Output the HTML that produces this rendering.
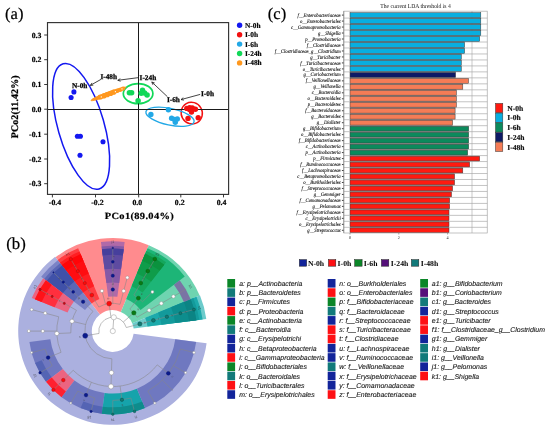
<!DOCTYPE html>
<html lang="en">
<head>
<meta charset="utf-8">
<title>Figure</title>
<style>
html,body{margin:0;padding:0;background:#fff;}
body{width:550px;height:429px;overflow:hidden;font-family:'Liberation Serif',serif;}
svg{display:block;text-rendering:geometricPrecision;}
</style>
</head>
<body>
<svg width="550" height="429" viewBox="0 0 550 429">
<rect x="0" y="0" width="550" height="429" fill="#ffffff"/>
<g id="pcoa">
<text x="5.0" y="19.2" font-family="'Liberation Serif', serif" font-size="16.6" font-weight="normal" font-style="normal" text-anchor="start" fill="#000" stroke="#000" stroke-width="0.2">(a)</text>
<ellipse cx="81.1" cy="126.4" rx="23.1" ry="65.1" transform="rotate(-16 81.1 126.4)" fill="none" stroke="#1418f0" stroke-width="1.5"/>
<ellipse cx="191.75" cy="113.1" rx="10.5" ry="11.0" transform="rotate(-30 191.75 113.1)" fill="none" stroke="#f21010" stroke-width="1.45"/>
<ellipse cx="170.0" cy="116.7" rx="24.6" ry="8.3" transform="rotate(12 170.0 116.7)" fill="none" stroke="#22a8e6" stroke-width="1.35"/>
<ellipse cx="138.1" cy="93.6" rx="14.8" ry="10" fill="none" stroke="#12d858" stroke-width="1.7"/>
<line x1="47.5" y1="109.1" x2="228.6" y2="109.1" stroke="#1a1a1a" stroke-width="1.05" shape-rendering="crispEdges"/>
<line x1="138.8" y1="22.6" x2="138.8" y2="194.4" stroke="#1a1a1a" stroke-width="1.05" shape-rendering="crispEdges"/>
<rect x="47.5" y="22.6" width="181.1" height="171.8" fill="none" stroke="#333" stroke-width="1.15"/>
<line x1="44.2" y1="35.0" x2="47.5" y2="35.0" stroke="#222" stroke-width="0.9"/>
<text x="41.4" y="37.5" font-family="'Liberation Serif', serif" font-size="7.8" font-weight="bold" font-style="normal" text-anchor="end" fill="#000" stroke="#000" stroke-width="0.2">0.3</text>
<line x1="44.2" y1="59.7" x2="47.5" y2="59.7" stroke="#222" stroke-width="0.9"/>
<text x="41.4" y="62.2" font-family="'Liberation Serif', serif" font-size="7.8" font-weight="bold" font-style="normal" text-anchor="end" fill="#000" stroke="#000" stroke-width="0.2">0.2</text>
<line x1="44.2" y1="84.5" x2="47.5" y2="84.5" stroke="#222" stroke-width="0.9"/>
<text x="41.4" y="87.0" font-family="'Liberation Serif', serif" font-size="7.8" font-weight="bold" font-style="normal" text-anchor="end" fill="#000" stroke="#000" stroke-width="0.2">0.1</text>
<line x1="44.2" y1="109.2" x2="47.5" y2="109.2" stroke="#222" stroke-width="0.9"/>
<text x="41.4" y="111.7" font-family="'Liberation Serif', serif" font-size="7.8" font-weight="bold" font-style="normal" text-anchor="end" fill="#000" stroke="#000" stroke-width="0.2">0.0</text>
<line x1="44.2" y1="134.2" x2="47.5" y2="134.2" stroke="#222" stroke-width="0.9"/>
<text x="41.4" y="136.7" font-family="'Liberation Serif', serif" font-size="7.8" font-weight="bold" font-style="normal" text-anchor="end" fill="#000" stroke="#000" stroke-width="0.2">-0.1</text>
<line x1="44.2" y1="159.0" x2="47.5" y2="159.0" stroke="#222" stroke-width="0.9"/>
<text x="41.4" y="161.5" font-family="'Liberation Serif', serif" font-size="7.8" font-weight="bold" font-style="normal" text-anchor="end" fill="#000" stroke="#000" stroke-width="0.2">-0.2</text>
<line x1="44.2" y1="183.7" x2="47.5" y2="183.7" stroke="#222" stroke-width="0.9"/>
<text x="41.4" y="186.2" font-family="'Liberation Serif', serif" font-size="7.8" font-weight="bold" font-style="normal" text-anchor="end" fill="#000" stroke="#000" stroke-width="0.2">-0.3</text>
<line x1="52.4" y1="194.4" x2="52.4" y2="197.4" stroke="#222" stroke-width="0.9"/>
<text x="55.0" y="204.70000000000002" font-family="'Liberation Serif', serif" font-size="7.8" font-weight="bold" font-style="normal" text-anchor="middle" fill="#000" stroke="#000" stroke-width="0.2">-0.4</text>
<line x1="95.5" y1="194.4" x2="95.5" y2="197.4" stroke="#222" stroke-width="0.9"/>
<text x="97.4" y="204.70000000000002" font-family="'Liberation Serif', serif" font-size="7.8" font-weight="bold" font-style="normal" text-anchor="middle" fill="#000" stroke="#000" stroke-width="0.2">-0.2</text>
<line x1="138.7" y1="194.4" x2="138.7" y2="197.4" stroke="#222" stroke-width="0.9"/>
<text x="137.3" y="204.70000000000002" font-family="'Liberation Serif', serif" font-size="7.8" font-weight="bold" font-style="normal" text-anchor="middle" fill="#000" stroke="#000" stroke-width="0.2">0.0</text>
<line x1="180.8" y1="194.4" x2="180.8" y2="197.4" stroke="#222" stroke-width="0.9"/>
<text x="179.7" y="204.70000000000002" font-family="'Liberation Serif', serif" font-size="7.8" font-weight="bold" font-style="normal" text-anchor="middle" fill="#000" stroke="#000" stroke-width="0.2">0.2</text>
<line x1="223.5" y1="194.4" x2="223.5" y2="197.4" stroke="#222" stroke-width="0.9"/>
<text x="221.5" y="204.70000000000002" font-family="'Liberation Serif', serif" font-size="7.8" font-weight="bold" font-style="normal" text-anchor="middle" fill="#000" stroke="#000" stroke-width="0.2">0.4</text>
<text transform="translate(139.4 219.3) scale(1.1 1)" font-family="'Liberation Serif', serif" font-size="9.5" font-weight="bold" text-anchor="middle" letter-spacing="0.3" stroke="#000" stroke-width="0.2">PCo1(89.04%)</text>
<text transform="translate(17.6 106.8) rotate(-90)" font-family="'Liberation Serif', serif" font-size="10" font-weight="bold" text-anchor="middle" letter-spacing="0.08" stroke="#000" stroke-width="0.25">PCo2(11.42%)</text>
<circle cx="73.9" cy="91.9" r="2.55" fill="#1418f0"/>
<circle cx="71.1" cy="97.5" r="2.55" fill="#1418f0"/>
<circle cx="77.4" cy="136.2" r="2.55" fill="#1418f0"/>
<circle cx="80.4" cy="136.2" r="2.55" fill="#1418f0"/>
<circle cx="103.0" cy="141.8" r="2.55" fill="#1418f0"/>
<circle cx="80.0" cy="155.3" r="2.55" fill="#1418f0"/>
<circle cx="129.4" cy="92.8" r="2.75" fill="#12d858"/>
<circle cx="131.6" cy="92.8" r="2.75" fill="#12d858"/>
<circle cx="142.5" cy="90.2" r="2.75" fill="#12d858"/>
<circle cx="141.2" cy="93.3" r="2.75" fill="#12d858"/>
<circle cx="144.6" cy="93.0" r="2.75" fill="#12d858"/>
<circle cx="147.1" cy="95.0" r="2.75" fill="#12d858"/>
<circle cx="138.1" cy="100.8" r="2.75" fill="#12d858"/>
<circle cx="150.9" cy="114.5" r="2.7" fill="#22a8e6"/>
<circle cx="168.4" cy="109.8" r="2.7" fill="#22a8e6"/>
<circle cx="171.6" cy="118.2" r="2.7" fill="#22a8e6"/>
<circle cx="174.5" cy="119.4" r="2.7" fill="#22a8e6"/>
<circle cx="177.3" cy="118.9" r="2.7" fill="#22a8e6"/>
<circle cx="175.3" cy="122.2" r="2.7" fill="#22a8e6"/>
<circle cx="186.8" cy="108.4" r="2.7" fill="#f21010"/>
<circle cx="189.5" cy="109.4" r="2.7" fill="#f21010"/>
<circle cx="192.3" cy="108.0" r="2.7" fill="#f21010"/>
<circle cx="191.5" cy="112.0" r="2.7" fill="#f21010"/>
<circle cx="195.4" cy="109.2" r="2.7" fill="#f21010"/>
<circle cx="188.0" cy="118.4" r="2.7" fill="#f21010"/>
<circle cx="198.2" cy="117.7" r="2.7" fill="#f21010"/>
<circle cx="189.6" cy="107.6" r="2.7" fill="#f21010"/>
<ellipse cx="108.5" cy="93.9" rx="18.7" ry="1.9" transform="rotate(-20.5 108.5 93.9)" fill="#ff981e" stroke="#ff981e" stroke-width="0.8"/>
<circle cx="100.2" cy="97.0" r="2.6" fill="#ff981e"/>
<circle cx="103.8" cy="95.9" r="2.6" fill="#ff981e"/>
<circle cx="107.2" cy="94.7" r="2.6" fill="#ff981e"/>
<circle cx="110.6" cy="93.4" r="2.6" fill="#ff981e"/>
<circle cx="113.6" cy="92.2" r="2.6" fill="#ff981e"/>
<circle cx="117.5" cy="90.8" r="2.1" fill="#ff981e"/>
<circle cx="120.5" cy="89.8" r="2.1" fill="#ff981e"/>
<circle cx="123" cy="88.7" r="2.1" fill="#ff981e"/>
<circle cx="101.3" cy="96.9" r="0.65" fill="#fff"/>
<circle cx="115.4" cy="91.7" r="0.65" fill="#fff"/>
<circle cx="122.0" cy="88.9" r="0.65" fill="#fff"/>
<text x="72.0" y="87.6" font-family="'Liberation Serif', serif" font-size="7.3" font-weight="bold" font-style="normal" text-anchor="start" fill="#000" stroke="#000" stroke-width="0.25">N-0h</text>
<text x="100.4" y="79.0" font-family="'Liberation Serif', serif" font-size="7.3" font-weight="bold" font-style="normal" text-anchor="start" fill="#000" stroke="#000" stroke-width="0.25">I-48h</text>
<text x="139.6" y="79.8" font-family="'Liberation Serif', serif" font-size="7.3" font-weight="bold" font-style="normal" text-anchor="start" fill="#000" stroke="#000" stroke-width="0.25">I-24h</text>
<text x="166.9" y="101.6" font-family="'Liberation Serif', serif" font-size="7.3" font-weight="bold" font-style="normal" text-anchor="start" fill="#000" stroke="#000" stroke-width="0.25">I-6h</text>
<text x="201.0" y="95.7" font-family="'Liberation Serif', serif" font-size="7.3" font-weight="bold" font-style="normal" text-anchor="start" fill="#000" stroke="#000" stroke-width="0.25">I-0h</text>
<line x1="200.2" y1="94.4" x2="181.0" y2="99.6" stroke="#222" stroke-width="0.85"/>
<line x1="181.0" y1="99.6" x2="183.95" y2="100.15" stroke="#222" stroke-width="0.8"/>
<line x1="181.0" y1="99.6" x2="183.27" y2="97.63" stroke="#222" stroke-width="0.8"/>
<line x1="167.4" y1="96.7" x2="151.8" y2="82.0" stroke="#222" stroke-width="0.85"/>
<line x1="151.8" y1="82.0" x2="152.87" y2="84.80" stroke="#222" stroke-width="0.8"/>
<line x1="151.8" y1="82.0" x2="154.66" y2="82.90" stroke="#222" stroke-width="0.8"/>
<line x1="138.6" y1="77.6" x2="117.8" y2="80.3" stroke="#222" stroke-width="0.85"/>
<line x1="117.8" y1="80.3" x2="120.65" y2="81.25" stroke="#222" stroke-width="0.8"/>
<line x1="117.8" y1="80.3" x2="120.31" y2="78.66" stroke="#222" stroke-width="0.8"/>
<line x1="100.9" y1="79.4" x2="90.3" y2="85.4" stroke="#222" stroke-width="0.85"/>
<line x1="90.3" y1="85.4" x2="93.29" y2="85.20" stroke="#222" stroke-width="0.8"/>
<line x1="90.3" y1="85.4" x2="92.01" y2="82.93" stroke="#222" stroke-width="0.8"/>
<circle cx="239.6" cy="25.3" r="2.7" fill="#1418f0"/>
<text x="244.9" y="27.7" font-family="'Liberation Serif', serif" font-size="7.4" font-weight="bold" font-style="normal" text-anchor="start" fill="#000" stroke="#000" stroke-width="0.15">N-0h</text>
<circle cx="239.6" cy="34.7" r="2.7" fill="#f21010"/>
<text x="244.9" y="37.1" font-family="'Liberation Serif', serif" font-size="7.4" font-weight="bold" font-style="normal" text-anchor="start" fill="#000" stroke="#000" stroke-width="0.15">I-0h</text>
<circle cx="239.6" cy="44.1" r="2.7" fill="#22a8e6"/>
<text x="244.9" y="46.5" font-family="'Liberation Serif', serif" font-size="7.4" font-weight="bold" font-style="normal" text-anchor="start" fill="#000" stroke="#000" stroke-width="0.15">I-6h</text>
<circle cx="239.6" cy="53.5" r="2.7" fill="#12d858"/>
<text x="244.9" y="55.9" font-family="'Liberation Serif', serif" font-size="7.4" font-weight="bold" font-style="normal" text-anchor="start" fill="#000" stroke="#000" stroke-width="0.15">I-24h</text>
<circle cx="239.6" cy="62.900000000000006" r="2.7" fill="#ff981e"/>
<text x="244.9" y="65.30000000000001" font-family="'Liberation Serif', serif" font-size="7.4" font-weight="bold" font-style="normal" text-anchor="start" fill="#000" stroke="#000" stroke-width="0.15">I-48h</text>
</g>
<g id="lda">
<text x="267.8" y="18.6" font-family="'Liberation Serif', serif" font-size="16.6" font-weight="normal" font-style="normal" text-anchor="start" fill="#000" stroke="#000" stroke-width="0.2">(c)</text>
<text transform="translate(415.5 8.0) scale(0.9 1)" font-family="'Liberation Serif', serif" font-size="6.25" text-anchor="middle" fill="#111">The current LDA threshold is 4</text>
<rect x="343.8" y="11.15" width="143.39999999999998" height="221.85" fill="#fff" stroke="none"/>
<line x1="472.00" y1="11.15" x2="472.00" y2="233.0" stroke="#a4a4a4" stroke-width="0.6"/>
<line x1="343.8" y1="18.09" x2="487.2" y2="18.09" stroke="#a4a4a4" stroke-width="0.65"/>
<line x1="343.8" y1="24.07" x2="487.2" y2="24.07" stroke="#a4a4a4" stroke-width="0.65"/>
<line x1="343.8" y1="30.04" x2="487.2" y2="30.04" stroke="#a4a4a4" stroke-width="0.65"/>
<line x1="343.8" y1="36.02" x2="487.2" y2="36.02" stroke="#a4a4a4" stroke-width="0.65"/>
<line x1="343.8" y1="42.00" x2="487.2" y2="42.00" stroke="#a4a4a4" stroke-width="0.65"/>
<line x1="343.8" y1="47.98" x2="487.2" y2="47.98" stroke="#a4a4a4" stroke-width="0.65"/>
<line x1="343.8" y1="53.96" x2="487.2" y2="53.96" stroke="#a4a4a4" stroke-width="0.65"/>
<line x1="343.8" y1="59.94" x2="487.2" y2="59.94" stroke="#a4a4a4" stroke-width="0.65"/>
<line x1="343.8" y1="65.91" x2="487.2" y2="65.91" stroke="#a4a4a4" stroke-width="0.65"/>
<line x1="343.8" y1="71.89" x2="487.2" y2="71.89" stroke="#a4a4a4" stroke-width="0.65"/>
<line x1="343.8" y1="77.87" x2="487.2" y2="77.87" stroke="#a4a4a4" stroke-width="0.65"/>
<line x1="343.8" y1="83.85" x2="487.2" y2="83.85" stroke="#a4a4a4" stroke-width="0.65"/>
<line x1="343.8" y1="89.83" x2="487.2" y2="89.83" stroke="#a4a4a4" stroke-width="0.65"/>
<line x1="343.8" y1="95.80" x2="487.2" y2="95.80" stroke="#a4a4a4" stroke-width="0.65"/>
<line x1="343.8" y1="101.78" x2="487.2" y2="101.78" stroke="#a4a4a4" stroke-width="0.65"/>
<line x1="343.8" y1="107.76" x2="487.2" y2="107.76" stroke="#a4a4a4" stroke-width="0.65"/>
<line x1="343.8" y1="113.74" x2="487.2" y2="113.74" stroke="#a4a4a4" stroke-width="0.65"/>
<line x1="343.8" y1="119.72" x2="487.2" y2="119.72" stroke="#a4a4a4" stroke-width="0.65"/>
<line x1="343.8" y1="125.69" x2="487.2" y2="125.69" stroke="#a4a4a4" stroke-width="0.65"/>
<line x1="343.8" y1="131.67" x2="487.2" y2="131.67" stroke="#a4a4a4" stroke-width="0.65"/>
<line x1="343.8" y1="137.65" x2="487.2" y2="137.65" stroke="#a4a4a4" stroke-width="0.65"/>
<line x1="343.8" y1="143.63" x2="487.2" y2="143.63" stroke="#a4a4a4" stroke-width="0.65"/>
<line x1="343.8" y1="149.60" x2="487.2" y2="149.60" stroke="#a4a4a4" stroke-width="0.65"/>
<line x1="343.8" y1="155.58" x2="487.2" y2="155.58" stroke="#a4a4a4" stroke-width="0.65"/>
<line x1="343.8" y1="161.56" x2="487.2" y2="161.56" stroke="#a4a4a4" stroke-width="0.65"/>
<line x1="343.8" y1="167.54" x2="487.2" y2="167.54" stroke="#a4a4a4" stroke-width="0.65"/>
<line x1="343.8" y1="173.52" x2="487.2" y2="173.52" stroke="#a4a4a4" stroke-width="0.65"/>
<line x1="343.8" y1="179.49" x2="487.2" y2="179.49" stroke="#a4a4a4" stroke-width="0.65"/>
<line x1="343.8" y1="185.47" x2="487.2" y2="185.47" stroke="#a4a4a4" stroke-width="0.65"/>
<line x1="343.8" y1="191.45" x2="487.2" y2="191.45" stroke="#a4a4a4" stroke-width="0.65"/>
<line x1="343.8" y1="197.43" x2="487.2" y2="197.43" stroke="#a4a4a4" stroke-width="0.65"/>
<line x1="343.8" y1="203.41" x2="487.2" y2="203.41" stroke="#a4a4a4" stroke-width="0.65"/>
<line x1="343.8" y1="209.38" x2="487.2" y2="209.38" stroke="#a4a4a4" stroke-width="0.65"/>
<line x1="343.8" y1="215.36" x2="487.2" y2="215.36" stroke="#a4a4a4" stroke-width="0.65"/>
<line x1="343.8" y1="221.34" x2="487.2" y2="221.34" stroke="#a4a4a4" stroke-width="0.65"/>
<line x1="343.8" y1="227.32" x2="487.2" y2="227.32" stroke="#a4a4a4" stroke-width="0.65"/>
<line x1="350.0" y1="18.09" x2="480.80" y2="18.09" stroke="#9c9797" stroke-width="1.4"/>
<line x1="350.0" y1="24.07" x2="480.80" y2="24.07" stroke="#9c9797" stroke-width="1.4"/>
<line x1="350.0" y1="30.05" x2="480.80" y2="30.05" stroke="#9c9797" stroke-width="1.4"/>
<line x1="350.0" y1="36.02" x2="479.70" y2="36.02" stroke="#9c9797" stroke-width="1.4"/>
<line x1="350.0" y1="42.00" x2="464.60" y2="42.00" stroke="#9c9797" stroke-width="1.4"/>
<line x1="350.0" y1="47.98" x2="464.60" y2="47.98" stroke="#9c9797" stroke-width="1.4"/>
<line x1="350.0" y1="53.96" x2="461.30" y2="53.96" stroke="#9c9797" stroke-width="1.4"/>
<line x1="350.0" y1="59.94" x2="461.30" y2="59.94" stroke="#9c9797" stroke-width="1.4"/>
<line x1="350.0" y1="65.91" x2="461.30" y2="65.91" stroke="#9c9797" stroke-width="1.4"/>
<line x1="350.0" y1="71.89" x2="455.60" y2="71.89" stroke="#9c9797" stroke-width="1.4"/>
<line x1="350.0" y1="77.87" x2="455.60" y2="77.87" stroke="#9c9797" stroke-width="1.4"/>
<line x1="350.0" y1="83.85" x2="462.80" y2="83.85" stroke="#9c9797" stroke-width="1.4"/>
<line x1="350.0" y1="89.82" x2="456.40" y2="89.82" stroke="#9c9797" stroke-width="1.4"/>
<line x1="350.0" y1="95.80" x2="456.40" y2="95.80" stroke="#9c9797" stroke-width="1.4"/>
<line x1="350.0" y1="101.78" x2="456.40" y2="101.78" stroke="#9c9797" stroke-width="1.4"/>
<line x1="350.0" y1="107.76" x2="455.10" y2="107.76" stroke="#9c9797" stroke-width="1.4"/>
<line x1="350.0" y1="113.74" x2="455.10" y2="113.74" stroke="#9c9797" stroke-width="1.4"/>
<line x1="350.0" y1="119.71" x2="452.60" y2="119.71" stroke="#9c9797" stroke-width="1.4"/>
<line x1="350.0" y1="125.69" x2="452.60" y2="125.69" stroke="#9c9797" stroke-width="1.4"/>
<line x1="350.0" y1="131.67" x2="468.70" y2="131.67" stroke="#9c9797" stroke-width="1.4"/>
<line x1="350.0" y1="137.65" x2="468.70" y2="137.65" stroke="#9c9797" stroke-width="1.4"/>
<line x1="350.0" y1="143.63" x2="468.70" y2="143.63" stroke="#9c9797" stroke-width="1.4"/>
<line x1="350.0" y1="149.60" x2="467.70" y2="149.60" stroke="#9c9797" stroke-width="1.4"/>
<line x1="350.0" y1="155.58" x2="467.70" y2="155.58" stroke="#9c9797" stroke-width="1.4"/>
<line x1="350.0" y1="161.56" x2="469.70" y2="161.56" stroke="#9c9797" stroke-width="1.4"/>
<line x1="350.0" y1="167.54" x2="462.80" y2="167.54" stroke="#9c9797" stroke-width="1.4"/>
<line x1="350.0" y1="173.52" x2="454.60" y2="173.52" stroke="#9c9797" stroke-width="1.4"/>
<line x1="350.0" y1="179.49" x2="454.60" y2="179.49" stroke="#9c9797" stroke-width="1.4"/>
<line x1="350.0" y1="185.47" x2="452.60" y2="185.47" stroke="#9c9797" stroke-width="1.4"/>
<line x1="350.0" y1="191.45" x2="451.50" y2="191.45" stroke="#9c9797" stroke-width="1.4"/>
<line x1="350.0" y1="197.43" x2="449.70" y2="197.43" stroke="#9c9797" stroke-width="1.4"/>
<line x1="350.0" y1="203.41" x2="449.70" y2="203.41" stroke="#9c9797" stroke-width="1.4"/>
<line x1="350.0" y1="209.38" x2="449.00" y2="209.38" stroke="#9c9797" stroke-width="1.4"/>
<line x1="350.0" y1="215.36" x2="449.00" y2="215.36" stroke="#9c9797" stroke-width="1.4"/>
<line x1="350.0" y1="221.34" x2="449.00" y2="221.34" stroke="#9c9797" stroke-width="1.4"/>
<line x1="350.0" y1="227.32" x2="449.00" y2="227.32" stroke="#9c9797" stroke-width="1.4"/>
<rect x="350.0" y="12.72" width="130.80" height="4.76" fill="#08aee0" stroke="#3c3c3c" stroke-width="0.5"/>
<line x1="341.90000000000003" y1="15.10" x2="344.0" y2="15.10" stroke="#111" stroke-width="0.8"/>
<text transform="translate(340.7 16.70) scale(0.9 1)" font-family="'Liberation Serif', serif" font-size="5.25" font-style="italic" text-anchor="end" fill="#000" stroke="#000" stroke-width="0.08">f__Enterobacteriaceae</text>
<rect x="350.0" y="18.70" width="130.80" height="4.76" fill="#08aee0" stroke="#3c3c3c" stroke-width="0.5"/>
<line x1="341.90000000000003" y1="21.08" x2="344.0" y2="21.08" stroke="#111" stroke-width="0.8"/>
<text transform="translate(340.7 22.68) scale(0.9 1)" font-family="'Liberation Serif', serif" font-size="5.25" font-style="italic" text-anchor="end" fill="#000" stroke="#000" stroke-width="0.08">o__Enterobacteriales</text>
<rect x="350.0" y="24.68" width="130.80" height="4.76" fill="#08aee0" stroke="#3c3c3c" stroke-width="0.5"/>
<line x1="341.90000000000003" y1="27.06" x2="344.0" y2="27.06" stroke="#111" stroke-width="0.8"/>
<text transform="translate(340.7 28.66) scale(0.9 1)" font-family="'Liberation Serif', serif" font-size="5.25" font-style="italic" text-anchor="end" fill="#000" stroke="#000" stroke-width="0.08">c__Gammaproteobacteria</text>
<rect x="350.0" y="30.65" width="130.80" height="4.76" fill="#08aee0" stroke="#3c3c3c" stroke-width="0.5"/>
<line x1="341.90000000000003" y1="33.03" x2="344.0" y2="33.03" stroke="#111" stroke-width="0.8"/>
<text transform="translate(340.7 34.63) scale(0.9 1)" font-family="'Liberation Serif', serif" font-size="5.25" font-style="italic" text-anchor="end" fill="#000" stroke="#000" stroke-width="0.08">g__Shigella</text>
<rect x="350.0" y="36.63" width="129.70" height="4.76" fill="#08aee0" stroke="#3c3c3c" stroke-width="0.5"/>
<line x1="341.90000000000003" y1="39.01" x2="344.0" y2="39.01" stroke="#111" stroke-width="0.8"/>
<text transform="translate(340.7 40.61) scale(0.9 1)" font-family="'Liberation Serif', serif" font-size="5.25" font-style="italic" text-anchor="end" fill="#000" stroke="#000" stroke-width="0.08">p__Proteobacteria</text>
<rect x="350.0" y="42.61" width="114.60" height="4.76" fill="#08aee0" stroke="#3c3c3c" stroke-width="0.5"/>
<line x1="341.90000000000003" y1="44.99" x2="344.0" y2="44.99" stroke="#111" stroke-width="0.8"/>
<text transform="translate(340.7 46.59) scale(0.9 1)" font-family="'Liberation Serif', serif" font-size="5.25" font-style="italic" text-anchor="end" fill="#000" stroke="#000" stroke-width="0.08">f__Clostridiaceae</text>
<rect x="350.0" y="48.59" width="114.60" height="4.76" fill="#08aee0" stroke="#3c3c3c" stroke-width="0.5"/>
<line x1="341.90000000000003" y1="50.97" x2="344.0" y2="50.97" stroke="#111" stroke-width="0.8"/>
<text transform="translate(340.7 52.57) scale(0.9 1)" font-family="'Liberation Serif', serif" font-size="5.25" font-style="italic" text-anchor="end" fill="#000" stroke="#000" stroke-width="0.08">f__Clostridiaceae_g__Clostridium</text>
<rect x="350.0" y="54.57" width="111.30" height="4.76" fill="#08aee0" stroke="#3c3c3c" stroke-width="0.5"/>
<line x1="341.90000000000003" y1="56.95" x2="344.0" y2="56.95" stroke="#111" stroke-width="0.8"/>
<text transform="translate(340.7 58.55) scale(0.9 1)" font-family="'Liberation Serif', serif" font-size="5.25" font-style="italic" text-anchor="end" fill="#000" stroke="#000" stroke-width="0.08">g__Turicibacter</text>
<rect x="350.0" y="60.54" width="111.30" height="4.76" fill="#08aee0" stroke="#3c3c3c" stroke-width="0.5"/>
<line x1="341.90000000000003" y1="62.92" x2="344.0" y2="62.92" stroke="#111" stroke-width="0.8"/>
<text transform="translate(340.7 64.52) scale(0.9 1)" font-family="'Liberation Serif', serif" font-size="5.25" font-style="italic" text-anchor="end" fill="#000" stroke="#000" stroke-width="0.08">f__Turicibacteraceae</text>
<rect x="350.0" y="66.52" width="111.30" height="4.76" fill="#08aee0" stroke="#3c3c3c" stroke-width="0.5"/>
<line x1="341.90000000000003" y1="68.90" x2="344.0" y2="68.90" stroke="#111" stroke-width="0.8"/>
<text transform="translate(340.7 70.50) scale(0.9 1)" font-family="'Liberation Serif', serif" font-size="5.25" font-style="italic" text-anchor="end" fill="#000" stroke="#000" stroke-width="0.08">o__Turicibacterales</text>
<rect x="350.0" y="72.50" width="105.60" height="4.76" fill="#0d1a66" stroke="#3c3c3c" stroke-width="0.5"/>
<line x1="341.90000000000003" y1="74.88" x2="344.0" y2="74.88" stroke="#111" stroke-width="0.8"/>
<text transform="translate(340.7 76.48) scale(0.9 1)" font-family="'Liberation Serif', serif" font-size="5.25" font-style="italic" text-anchor="end" fill="#000" stroke="#000" stroke-width="0.08">g__Coriobacterium</text>
<rect x="350.0" y="78.48" width="118.50" height="4.76" fill="#f57c56" stroke="#3c3c3c" stroke-width="0.5"/>
<line x1="341.90000000000003" y1="80.86" x2="344.0" y2="80.86" stroke="#111" stroke-width="0.8"/>
<text transform="translate(340.7 82.46) scale(0.9 1)" font-family="'Liberation Serif', serif" font-size="5.25" font-style="italic" text-anchor="end" fill="#000" stroke="#000" stroke-width="0.08">f__Veillonellaceae</text>
<rect x="350.0" y="84.46" width="112.80" height="4.76" fill="#f57c56" stroke="#3c3c3c" stroke-width="0.5"/>
<line x1="341.90000000000003" y1="86.84" x2="344.0" y2="86.84" stroke="#111" stroke-width="0.8"/>
<text transform="translate(340.7 88.44) scale(0.9 1)" font-family="'Liberation Serif', serif" font-size="5.25" font-style="italic" text-anchor="end" fill="#000" stroke="#000" stroke-width="0.08">g__Veillonella</text>
<rect x="350.0" y="90.43" width="106.40" height="4.76" fill="#f57c56" stroke="#3c3c3c" stroke-width="0.5"/>
<line x1="341.90000000000003" y1="92.81" x2="344.0" y2="92.81" stroke="#111" stroke-width="0.8"/>
<text transform="translate(340.7 94.41) scale(0.9 1)" font-family="'Liberation Serif', serif" font-size="5.25" font-style="italic" text-anchor="end" fill="#000" stroke="#000" stroke-width="0.08">c__Bacteroidia</text>
<rect x="350.0" y="96.41" width="106.40" height="4.76" fill="#f57c56" stroke="#3c3c3c" stroke-width="0.5"/>
<line x1="341.90000000000003" y1="98.79" x2="344.0" y2="98.79" stroke="#111" stroke-width="0.8"/>
<text transform="translate(340.7 100.39) scale(0.9 1)" font-family="'Liberation Serif', serif" font-size="5.25" font-style="italic" text-anchor="end" fill="#000" stroke="#000" stroke-width="0.08">o__Bacteroidales</text>
<rect x="350.0" y="102.39" width="106.40" height="4.76" fill="#f57c56" stroke="#3c3c3c" stroke-width="0.5"/>
<line x1="341.90000000000003" y1="104.77" x2="344.0" y2="104.77" stroke="#111" stroke-width="0.8"/>
<text transform="translate(340.7 106.37) scale(0.9 1)" font-family="'Liberation Serif', serif" font-size="5.25" font-style="italic" text-anchor="end" fill="#000" stroke="#000" stroke-width="0.08">p__Bacteroidetes</text>
<rect x="350.0" y="108.37" width="105.10" height="4.76" fill="#f57c56" stroke="#3c3c3c" stroke-width="0.5"/>
<line x1="341.90000000000003" y1="110.75" x2="344.0" y2="110.75" stroke="#111" stroke-width="0.8"/>
<text transform="translate(340.7 112.35) scale(0.9 1)" font-family="'Liberation Serif', serif" font-size="5.25" font-style="italic" text-anchor="end" fill="#000" stroke="#000" stroke-width="0.08">f__Bacteroidaceae</text>
<rect x="350.0" y="114.35" width="105.10" height="4.76" fill="#f57c56" stroke="#3c3c3c" stroke-width="0.5"/>
<line x1="341.90000000000003" y1="116.73" x2="344.0" y2="116.73" stroke="#111" stroke-width="0.8"/>
<text transform="translate(340.7 118.33) scale(0.9 1)" font-family="'Liberation Serif', serif" font-size="5.25" font-style="italic" text-anchor="end" fill="#000" stroke="#000" stroke-width="0.08">g__Bacteroides</text>
<rect x="350.0" y="120.32" width="102.60" height="4.76" fill="#f57c56" stroke="#3c3c3c" stroke-width="0.5"/>
<line x1="341.90000000000003" y1="122.70" x2="344.0" y2="122.70" stroke="#111" stroke-width="0.8"/>
<text transform="translate(340.7 124.30) scale(0.9 1)" font-family="'Liberation Serif', serif" font-size="5.25" font-style="italic" text-anchor="end" fill="#000" stroke="#000" stroke-width="0.08">g__Dialister</text>
<rect x="350.0" y="126.30" width="118.70" height="4.76" fill="#0b8a5c" stroke="#3c3c3c" stroke-width="0.5"/>
<line x1="341.90000000000003" y1="128.68" x2="344.0" y2="128.68" stroke="#111" stroke-width="0.8"/>
<text transform="translate(340.7 130.28) scale(0.9 1)" font-family="'Liberation Serif', serif" font-size="5.25" font-style="italic" text-anchor="end" fill="#000" stroke="#000" stroke-width="0.08">g__Bifidobacterium</text>
<rect x="350.0" y="132.28" width="118.70" height="4.76" fill="#0b8a5c" stroke="#3c3c3c" stroke-width="0.5"/>
<line x1="341.90000000000003" y1="134.66" x2="344.0" y2="134.66" stroke="#111" stroke-width="0.8"/>
<text transform="translate(340.7 136.26) scale(0.9 1)" font-family="'Liberation Serif', serif" font-size="5.25" font-style="italic" text-anchor="end" fill="#000" stroke="#000" stroke-width="0.08">o__Bifidobacteriales</text>
<rect x="350.0" y="138.26" width="118.70" height="4.76" fill="#0b8a5c" stroke="#3c3c3c" stroke-width="0.5"/>
<line x1="341.90000000000003" y1="140.64" x2="344.0" y2="140.64" stroke="#111" stroke-width="0.8"/>
<text transform="translate(340.7 142.24) scale(0.9 1)" font-family="'Liberation Serif', serif" font-size="5.25" font-style="italic" text-anchor="end" fill="#000" stroke="#000" stroke-width="0.08">f__Bifidobacteriaceae</text>
<rect x="350.0" y="144.24" width="118.70" height="4.76" fill="#0b8a5c" stroke="#3c3c3c" stroke-width="0.5"/>
<line x1="341.90000000000003" y1="146.62" x2="344.0" y2="146.62" stroke="#111" stroke-width="0.8"/>
<text transform="translate(340.7 148.22) scale(0.9 1)" font-family="'Liberation Serif', serif" font-size="5.25" font-style="italic" text-anchor="end" fill="#000" stroke="#000" stroke-width="0.08">c__Actinobacteria</text>
<rect x="350.0" y="150.21" width="117.70" height="4.76" fill="#0b8a5c" stroke="#3c3c3c" stroke-width="0.5"/>
<line x1="341.90000000000003" y1="152.59" x2="344.0" y2="152.59" stroke="#111" stroke-width="0.8"/>
<text transform="translate(340.7 154.19) scale(0.9 1)" font-family="'Liberation Serif', serif" font-size="5.25" font-style="italic" text-anchor="end" fill="#000" stroke="#000" stroke-width="0.08">p__Actinobacteria</text>
<rect x="350.0" y="156.19" width="129.70" height="4.76" fill="#ff1a10" stroke="#3c3c3c" stroke-width="0.5"/>
<line x1="341.90000000000003" y1="158.57" x2="344.0" y2="158.57" stroke="#111" stroke-width="0.8"/>
<text transform="translate(340.7 160.17) scale(0.9 1)" font-family="'Liberation Serif', serif" font-size="5.25" font-style="italic" text-anchor="end" fill="#000" stroke="#000" stroke-width="0.08">p__Firmicutes</text>
<rect x="350.0" y="162.17" width="119.70" height="4.76" fill="#ff1a10" stroke="#3c3c3c" stroke-width="0.5"/>
<line x1="341.90000000000003" y1="164.55" x2="344.0" y2="164.55" stroke="#111" stroke-width="0.8"/>
<text transform="translate(340.7 166.15) scale(0.9 1)" font-family="'Liberation Serif', serif" font-size="5.25" font-style="italic" text-anchor="end" fill="#000" stroke="#000" stroke-width="0.08">f__Ruminococcaceae</text>
<rect x="350.0" y="168.15" width="112.80" height="4.76" fill="#ff1a10" stroke="#3c3c3c" stroke-width="0.5"/>
<line x1="341.90000000000003" y1="170.53" x2="344.0" y2="170.53" stroke="#111" stroke-width="0.8"/>
<text transform="translate(340.7 172.13) scale(0.9 1)" font-family="'Liberation Serif', serif" font-size="5.25" font-style="italic" text-anchor="end" fill="#000" stroke="#000" stroke-width="0.08">f__Lachnospiraceae</text>
<rect x="350.0" y="174.13" width="104.60" height="4.76" fill="#ff1a10" stroke="#3c3c3c" stroke-width="0.5"/>
<line x1="341.90000000000003" y1="176.51" x2="344.0" y2="176.51" stroke="#111" stroke-width="0.8"/>
<text transform="translate(340.7 178.11) scale(0.9 1)" font-family="'Liberation Serif', serif" font-size="5.25" font-style="italic" text-anchor="end" fill="#000" stroke="#000" stroke-width="0.08">c__Betaproteobacteria</text>
<rect x="350.0" y="180.10" width="104.60" height="4.76" fill="#ff1a10" stroke="#3c3c3c" stroke-width="0.5"/>
<line x1="341.90000000000003" y1="182.48" x2="344.0" y2="182.48" stroke="#111" stroke-width="0.8"/>
<text transform="translate(340.7 184.08) scale(0.9 1)" font-family="'Liberation Serif', serif" font-size="5.25" font-style="italic" text-anchor="end" fill="#000" stroke="#000" stroke-width="0.08">o__Burkholderiales</text>
<rect x="350.0" y="186.08" width="102.60" height="4.76" fill="#ff1a10" stroke="#3c3c3c" stroke-width="0.5"/>
<line x1="341.90000000000003" y1="188.46" x2="344.0" y2="188.46" stroke="#111" stroke-width="0.8"/>
<text transform="translate(340.7 190.06) scale(0.9 1)" font-family="'Liberation Serif', serif" font-size="5.25" font-style="italic" text-anchor="end" fill="#000" stroke="#000" stroke-width="0.08">f__Streptococcaceae</text>
<rect x="350.0" y="192.06" width="101.50" height="4.76" fill="#ff1a10" stroke="#3c3c3c" stroke-width="0.5"/>
<line x1="341.90000000000003" y1="194.44" x2="344.0" y2="194.44" stroke="#111" stroke-width="0.8"/>
<text transform="translate(340.7 196.04) scale(0.9 1)" font-family="'Liberation Serif', serif" font-size="5.25" font-style="italic" text-anchor="end" fill="#000" stroke="#000" stroke-width="0.08">g__Gemmiger</text>
<rect x="350.0" y="198.04" width="99.70" height="4.76" fill="#ff1a10" stroke="#3c3c3c" stroke-width="0.5"/>
<line x1="341.90000000000003" y1="200.42" x2="344.0" y2="200.42" stroke="#111" stroke-width="0.8"/>
<text transform="translate(340.7 202.02) scale(0.9 1)" font-family="'Liberation Serif', serif" font-size="5.25" font-style="italic" text-anchor="end" fill="#000" stroke="#000" stroke-width="0.08">f__Comamonadaceae</text>
<rect x="350.0" y="204.02" width="99.70" height="4.76" fill="#ff1a10" stroke="#3c3c3c" stroke-width="0.5"/>
<line x1="341.90000000000003" y1="206.40" x2="344.0" y2="206.40" stroke="#111" stroke-width="0.8"/>
<text transform="translate(340.7 208.00) scale(0.9 1)" font-family="'Liberation Serif', serif" font-size="5.25" font-style="italic" text-anchor="end" fill="#000" stroke="#000" stroke-width="0.08">g__Pelomonas</text>
<rect x="350.0" y="209.99" width="99.00" height="4.76" fill="#ff1a10" stroke="#3c3c3c" stroke-width="0.5"/>
<line x1="341.90000000000003" y1="212.37" x2="344.0" y2="212.37" stroke="#111" stroke-width="0.8"/>
<text transform="translate(340.7 213.97) scale(0.9 1)" font-family="'Liberation Serif', serif" font-size="5.25" font-style="italic" text-anchor="end" fill="#000" stroke="#000" stroke-width="0.08">f__Erysipelotrichaceae</text>
<rect x="350.0" y="215.97" width="99.00" height="4.76" fill="#ff1a10" stroke="#3c3c3c" stroke-width="0.5"/>
<line x1="341.90000000000003" y1="218.35" x2="344.0" y2="218.35" stroke="#111" stroke-width="0.8"/>
<text transform="translate(340.7 219.95) scale(0.9 1)" font-family="'Liberation Serif', serif" font-size="5.25" font-style="italic" text-anchor="end" fill="#000" stroke="#000" stroke-width="0.08">c__Erysipelotrichi</text>
<rect x="350.0" y="221.95" width="99.00" height="4.76" fill="#ff1a10" stroke="#3c3c3c" stroke-width="0.5"/>
<line x1="341.90000000000003" y1="224.33" x2="344.0" y2="224.33" stroke="#111" stroke-width="0.8"/>
<text transform="translate(340.7 225.93) scale(0.9 1)" font-family="'Liberation Serif', serif" font-size="5.25" font-style="italic" text-anchor="end" fill="#000" stroke="#000" stroke-width="0.08">o__Erysipelotrichales</text>
<rect x="350.0" y="227.93" width="99.00" height="4.76" fill="#ff1a10" stroke="#3c3c3c" stroke-width="0.5"/>
<line x1="341.90000000000003" y1="230.31" x2="344.0" y2="230.31" stroke="#111" stroke-width="0.8"/>
<text transform="translate(340.7 231.91) scale(0.9 1)" font-family="'Liberation Serif', serif" font-size="5.25" font-style="italic" text-anchor="end" fill="#000" stroke="#000" stroke-width="0.08">g__Streptococcus</text>
<rect x="343.8" y="11.15" width="143.39999999999998" height="221.85" fill="none" stroke="#999" stroke-width="0.6"/>
<line x1="343.8" y1="11.15" x2="343.8" y2="233.0" stroke="#777" stroke-width="0.6"/>
<line x1="350.00" y1="233.0" x2="350.00" y2="234.5" stroke="#555" stroke-width="0.5"/>
<text x="350.00" y="239.0" font-family="'Liberation Serif', serif" font-size="4.2" font-weight="normal" font-style="normal" text-anchor="middle" fill="#222" >0</text>
<line x1="398.80" y1="233.0" x2="398.80" y2="234.5" stroke="#555" stroke-width="0.5"/>
<text x="398.80" y="239.0" font-family="'Liberation Serif', serif" font-size="4.2" font-weight="normal" font-style="normal" text-anchor="middle" fill="#222" >2</text>
<line x1="447.60" y1="233.0" x2="447.60" y2="234.5" stroke="#555" stroke-width="0.5"/>
<text x="447.60" y="239.0" font-family="'Liberation Serif', serif" font-size="4.2" font-weight="normal" font-style="normal" text-anchor="middle" fill="#222" >4</text>
<rect x="495.5" y="103.40" width="7.3" height="9.3" fill="#ff1a10" stroke="#333" stroke-width="0.5"/>
<text x="507.3" y="110.70" font-family="'Liberation Serif', serif" font-size="7.6" font-weight="bold" font-style="normal" text-anchor="start" fill="#111" stroke="#111" stroke-width="0.15">N-0h</text>
<rect x="495.5" y="113.10" width="7.3" height="9.3" fill="#08aee0" stroke="#333" stroke-width="0.5"/>
<text x="507.3" y="120.40" font-family="'Liberation Serif', serif" font-size="7.6" font-weight="bold" font-style="normal" text-anchor="start" fill="#111" stroke="#111" stroke-width="0.15">I-0h</text>
<rect x="495.5" y="122.80" width="7.3" height="9.3" fill="#0b8a5c" stroke="#333" stroke-width="0.5"/>
<text x="507.3" y="130.10" font-family="'Liberation Serif', serif" font-size="7.6" font-weight="bold" font-style="normal" text-anchor="start" fill="#111" stroke="#111" stroke-width="0.15">I-6h</text>
<rect x="495.5" y="132.50" width="7.3" height="9.3" fill="#0d1a66" stroke="#333" stroke-width="0.5"/>
<text x="507.3" y="139.80" font-family="'Liberation Serif', serif" font-size="7.6" font-weight="bold" font-style="normal" text-anchor="start" fill="#111" stroke="#111" stroke-width="0.15">I-24h</text>
<rect x="495.5" y="142.20" width="7.3" height="9.3" fill="#f57c56" stroke="#333" stroke-width="0.5"/>
<text x="507.3" y="149.50" font-family="'Liberation Serif', serif" font-size="7.6" font-weight="bold" font-style="normal" text-anchor="start" fill="#111" stroke="#111" stroke-width="0.15">I-48h</text>
</g>
<g id="legends">
<rect x="299.3" y="259.6" width="7.4" height="6.6" fill="#12249a" stroke="#222" stroke-width="0.5"/>
<text x="307.9" y="265.9" font-family="'Liberation Serif', serif" font-size="7.7" font-weight="bold" font-style="normal" text-anchor="start" fill="#000" >N-0h</text>
<rect x="328.4" y="259.6" width="7.4" height="6.6" fill="#fe1014" stroke="#222" stroke-width="0.5"/>
<text x="337.6" y="265.9" font-family="'Liberation Serif', serif" font-size="7.7" font-weight="bold" font-style="normal" text-anchor="start" fill="#000" >I-0h</text>
<rect x="354.7" y="259.6" width="7.4" height="6.6" fill="#0b8628" stroke="#222" stroke-width="0.5"/>
<text x="363.8" y="265.9" font-family="'Liberation Serif', serif" font-size="7.7" font-weight="bold" font-style="normal" text-anchor="start" fill="#000" >I-6h</text>
<rect x="381.4" y="259.6" width="7.4" height="6.6" fill="#55107a" stroke="#222" stroke-width="0.5"/>
<text x="390.8" y="265.9" font-family="'Liberation Serif', serif" font-size="7.7" font-weight="bold" font-style="normal" text-anchor="start" fill="#000" >I-24h</text>
<rect x="411.4" y="259.6" width="7.4" height="6.6" fill="#127a7a" stroke="#222" stroke-width="0.5"/>
<text x="420.7" y="265.9" font-family="'Liberation Serif', serif" font-size="7.7" font-weight="bold" font-style="normal" text-anchor="start" fill="#000" >I-48h</text>
<rect x="227.3" y="279.00" width="7.8" height="8.6" fill="#0b8628"/>
<text x="239.2" y="285.80" font-family="'Liberation Sans', sans-serif" font-size="6.93" font-weight="normal" font-style="italic" text-anchor="start" fill="#1c1c1c" stroke="#1c1c1c" stroke-width="0.12">a: p__Actinobacteria</text>
<rect x="227.3" y="288.27" width="7.8" height="8.6" fill="#127a7a"/>
<text x="239.2" y="295.07" font-family="'Liberation Sans', sans-serif" font-size="6.93" font-weight="normal" font-style="italic" text-anchor="start" fill="#1c1c1c" stroke="#1c1c1c" stroke-width="0.12">b: p__Bacteroidetes</text>
<rect x="227.3" y="297.54" width="7.8" height="8.6" fill="#12249a"/>
<text x="239.2" y="304.34" font-family="'Liberation Sans', sans-serif" font-size="6.93" font-weight="normal" font-style="italic" text-anchor="start" fill="#1c1c1c" stroke="#1c1c1c" stroke-width="0.12">c: p__Firmicutes</text>
<rect x="227.3" y="306.81" width="7.8" height="8.6" fill="#fe1014"/>
<text x="239.2" y="313.61" font-family="'Liberation Sans', sans-serif" font-size="6.93" font-weight="normal" font-style="italic" text-anchor="start" fill="#1c1c1c" stroke="#1c1c1c" stroke-width="0.12">d: p__Proteobacteria</text>
<rect x="227.3" y="316.08" width="7.8" height="8.6" fill="#0b8628"/>
<text x="239.2" y="322.88" font-family="'Liberation Sans', sans-serif" font-size="6.93" font-weight="normal" font-style="italic" text-anchor="start" fill="#1c1c1c" stroke="#1c1c1c" stroke-width="0.12">e: c__Actinobacteria</text>
<rect x="227.3" y="325.35" width="7.8" height="8.6" fill="#127a7a"/>
<text x="239.2" y="332.15" font-family="'Liberation Sans', sans-serif" font-size="6.93" font-weight="normal" font-style="italic" text-anchor="start" fill="#1c1c1c" stroke="#1c1c1c" stroke-width="0.12">f: c__Bacteroidia</text>
<rect x="227.3" y="334.62" width="7.8" height="8.6" fill="#12249a"/>
<text x="239.2" y="341.42" font-family="'Liberation Sans', sans-serif" font-size="6.93" font-weight="normal" font-style="italic" text-anchor="start" fill="#1c1c1c" stroke="#1c1c1c" stroke-width="0.12">g: c__Erysipelotrichi</text>
<rect x="227.3" y="343.89" width="7.8" height="8.6" fill="#12249a"/>
<text x="239.2" y="350.69" font-family="'Liberation Sans', sans-serif" font-size="6.93" font-weight="normal" font-style="italic" text-anchor="start" fill="#1c1c1c" stroke="#1c1c1c" stroke-width="0.12">h: c__Betaproteobacteria</text>
<rect x="227.3" y="353.16" width="7.8" height="8.6" fill="#fe1014"/>
<text x="239.2" y="359.96" font-family="'Liberation Sans', sans-serif" font-size="6.93" font-weight="normal" font-style="italic" text-anchor="start" fill="#1c1c1c" stroke="#1c1c1c" stroke-width="0.12">i: c__Gammaproteobacteria</text>
<rect x="227.3" y="362.43" width="7.8" height="8.6" fill="#0b8628"/>
<text x="239.2" y="369.23" font-family="'Liberation Sans', sans-serif" font-size="6.93" font-weight="normal" font-style="italic" text-anchor="start" fill="#1c1c1c" stroke="#1c1c1c" stroke-width="0.12">j: o__Bifidobacteriales</text>
<rect x="227.3" y="371.70" width="7.8" height="8.6" fill="#127a7a"/>
<text x="239.2" y="378.50" font-family="'Liberation Sans', sans-serif" font-size="6.93" font-weight="normal" font-style="italic" text-anchor="start" fill="#1c1c1c" stroke="#1c1c1c" stroke-width="0.12">k: o__Bacteroidales</text>
<rect x="227.3" y="380.97" width="7.8" height="8.6" fill="#fe1014"/>
<text x="239.2" y="387.77" font-family="'Liberation Sans', sans-serif" font-size="6.93" font-weight="normal" font-style="italic" text-anchor="start" fill="#1c1c1c" stroke="#1c1c1c" stroke-width="0.12">l: o__Turicibacterales</text>
<rect x="227.3" y="390.24" width="7.8" height="8.6" fill="#12249a"/>
<text x="239.2" y="397.04" font-family="'Liberation Sans', sans-serif" font-size="6.93" font-weight="normal" font-style="italic" text-anchor="start" fill="#1c1c1c" stroke="#1c1c1c" stroke-width="0.12">m: o__Erysipelotrichales</text>
<rect x="327.7" y="279.00" width="7.8" height="8.6" fill="#12249a"/>
<text x="339.3" y="285.80" font-family="'Liberation Sans', sans-serif" font-size="6.93" font-weight="normal" font-style="italic" text-anchor="start" fill="#1c1c1c" stroke="#1c1c1c" stroke-width="0.12">n: o__Burkholderiales</text>
<rect x="327.7" y="288.27" width="7.8" height="8.6" fill="#fe1014"/>
<text x="339.3" y="295.07" font-family="'Liberation Sans', sans-serif" font-size="6.93" font-weight="normal" font-style="italic" text-anchor="start" fill="#1c1c1c" stroke="#1c1c1c" stroke-width="0.12">o: o__Enterobacteriales</text>
<rect x="327.7" y="297.54" width="7.8" height="8.6" fill="#0b8628"/>
<text x="339.3" y="304.34" font-family="'Liberation Sans', sans-serif" font-size="6.93" font-weight="normal" font-style="italic" text-anchor="start" fill="#1c1c1c" stroke="#1c1c1c" stroke-width="0.12">p: f__Bifidobacteriaceae</text>
<rect x="327.7" y="306.81" width="7.8" height="8.6" fill="#127a7a"/>
<text x="339.3" y="313.61" font-family="'Liberation Sans', sans-serif" font-size="6.93" font-weight="normal" font-style="italic" text-anchor="start" fill="#1c1c1c" stroke="#1c1c1c" stroke-width="0.12">q: f__Bacteroidaceae</text>
<rect x="327.7" y="316.08" width="7.8" height="8.6" fill="#12249a"/>
<text x="339.3" y="322.88" font-family="'Liberation Sans', sans-serif" font-size="6.93" font-weight="normal" font-style="italic" text-anchor="start" fill="#1c1c1c" stroke="#1c1c1c" stroke-width="0.12">r: f__Streptococcaceae</text>
<rect x="327.7" y="325.35" width="7.8" height="8.6" fill="#fe1014"/>
<text x="339.3" y="332.15" font-family="'Liberation Sans', sans-serif" font-size="6.93" font-weight="normal" font-style="italic" text-anchor="start" fill="#1c1c1c" stroke="#1c1c1c" stroke-width="0.12">s: f__Turicibacteraceae</text>
<rect x="327.7" y="334.62" width="7.8" height="8.6" fill="#fe1014"/>
<text x="339.3" y="341.42" font-family="'Liberation Sans', sans-serif" font-size="6.93" font-weight="normal" font-style="italic" text-anchor="start" fill="#1c1c1c" stroke="#1c1c1c" stroke-width="0.12">t: f__Clostridiaceae</text>
<rect x="327.7" y="343.89" width="7.8" height="8.6" fill="#12249a"/>
<text x="339.3" y="350.69" font-family="'Liberation Sans', sans-serif" font-size="6.93" font-weight="normal" font-style="italic" text-anchor="start" fill="#1c1c1c" stroke="#1c1c1c" stroke-width="0.12">u: f__Lachnospiraceae</text>
<rect x="327.7" y="353.16" width="7.8" height="8.6" fill="#12249a"/>
<text x="339.3" y="359.96" font-family="'Liberation Sans', sans-serif" font-size="6.93" font-weight="normal" font-style="italic" text-anchor="start" fill="#1c1c1c" stroke="#1c1c1c" stroke-width="0.12">v: f__Ruminococcaceae</text>
<rect x="327.7" y="362.43" width="7.8" height="8.6" fill="#127a7a"/>
<text x="339.3" y="369.23" font-family="'Liberation Sans', sans-serif" font-size="6.93" font-weight="normal" font-style="italic" text-anchor="start" fill="#1c1c1c" stroke="#1c1c1c" stroke-width="0.12">w: f__Veillonellaceae</text>
<rect x="327.7" y="371.70" width="7.8" height="8.6" fill="#12249a"/>
<text x="339.3" y="378.50" font-family="'Liberation Sans', sans-serif" font-size="6.93" font-weight="normal" font-style="italic" text-anchor="start" fill="#1c1c1c" stroke="#1c1c1c" stroke-width="0.12">x: f__Erysipelotrichaceae</text>
<rect x="327.7" y="380.97" width="7.8" height="8.6" fill="#12249a"/>
<text x="339.3" y="387.77" font-family="'Liberation Sans', sans-serif" font-size="6.93" font-weight="normal" font-style="italic" text-anchor="start" fill="#1c1c1c" stroke="#1c1c1c" stroke-width="0.12">y: f__Comamonadaceae</text>
<rect x="327.7" y="390.24" width="7.8" height="8.6" fill="#fe1014"/>
<text x="339.3" y="397.04" font-family="'Liberation Sans', sans-serif" font-size="6.93" font-weight="normal" font-style="italic" text-anchor="start" fill="#1c1c1c" stroke="#1c1c1c" stroke-width="0.12">z: f__Enterobacteriaceae</text>
<rect x="420.2" y="279.00" width="7.8" height="8.6" fill="#0b8628"/>
<text x="431.8" y="285.80" font-family="'Liberation Sans', sans-serif" font-size="6.93" font-weight="normal" font-style="italic" text-anchor="start" fill="#1c1c1c" stroke="#1c1c1c" stroke-width="0.12">a1: g__Bifidobacterium</text>
<rect x="420.2" y="288.27" width="7.8" height="8.6" fill="#55107a"/>
<text x="431.8" y="295.07" font-family="'Liberation Sans', sans-serif" font-size="6.93" font-weight="normal" font-style="italic" text-anchor="start" fill="#1c1c1c" stroke="#1c1c1c" stroke-width="0.12">b1: g__Coriobacterium</text>
<rect x="420.2" y="297.54" width="7.8" height="8.6" fill="#127a7a"/>
<text x="431.8" y="304.34" font-family="'Liberation Sans', sans-serif" font-size="6.93" font-weight="normal" font-style="italic" text-anchor="start" fill="#1c1c1c" stroke="#1c1c1c" stroke-width="0.12">c1: g__Bacteroides</text>
<rect x="420.2" y="306.81" width="7.8" height="8.6" fill="#12249a"/>
<text x="431.8" y="313.61" font-family="'Liberation Sans', sans-serif" font-size="6.93" font-weight="normal" font-style="italic" text-anchor="start" fill="#1c1c1c" stroke="#1c1c1c" stroke-width="0.12">d1: g__Streptococcus</text>
<rect x="420.2" y="316.08" width="7.8" height="8.6" fill="#fe1014"/>
<text x="431.8" y="322.88" font-family="'Liberation Sans', sans-serif" font-size="6.93" font-weight="normal" font-style="italic" text-anchor="start" fill="#1c1c1c" stroke="#1c1c1c" stroke-width="0.12">e1: g__Turicibacter</text>
<rect x="420.2" y="325.35" width="7.8" height="8.6" fill="#fe1014"/>
<text x="431.8" y="332.15" font-family="'Liberation Sans', sans-serif" font-size="6.93" font-weight="normal" font-style="italic" text-anchor="start" fill="#1c1c1c" stroke="#1c1c1c" stroke-width="0.12">f1: f__Clostridiaceae_g__Clostridium</text>
<rect x="420.2" y="334.62" width="7.8" height="8.6" fill="#12249a"/>
<text x="431.8" y="341.42" font-family="'Liberation Sans', sans-serif" font-size="6.93" font-weight="normal" font-style="italic" text-anchor="start" fill="#1c1c1c" stroke="#1c1c1c" stroke-width="0.12">g1: g__Gemmiger</text>
<rect x="420.2" y="343.89" width="7.8" height="8.6" fill="#127a7a"/>
<text x="431.8" y="350.69" font-family="'Liberation Sans', sans-serif" font-size="6.93" font-weight="normal" font-style="italic" text-anchor="start" fill="#1c1c1c" stroke="#1c1c1c" stroke-width="0.12">h1: g__Dialister</text>
<rect x="420.2" y="353.16" width="7.8" height="8.6" fill="#127a7a"/>
<text x="431.8" y="359.96" font-family="'Liberation Sans', sans-serif" font-size="6.93" font-weight="normal" font-style="italic" text-anchor="start" fill="#1c1c1c" stroke="#1c1c1c" stroke-width="0.12">i1: g__Veillonella</text>
<rect x="420.2" y="362.43" width="7.8" height="8.6" fill="#12249a"/>
<text x="431.8" y="369.23" font-family="'Liberation Sans', sans-serif" font-size="6.93" font-weight="normal" font-style="italic" text-anchor="start" fill="#1c1c1c" stroke="#1c1c1c" stroke-width="0.12">j1: g__Pelomonas</text>
<rect x="420.2" y="371.70" width="7.8" height="8.6" fill="#fe1014"/>
<text x="431.8" y="378.50" font-family="'Liberation Sans', sans-serif" font-size="6.93" font-weight="normal" font-style="italic" text-anchor="start" fill="#1c1c1c" stroke="#1c1c1c" stroke-width="0.12">k1: g__Shigella</text>
</g>
<g id="clado">
<text x="6.2" y="249.1" font-family="'Liberation Serif', serif" font-size="16.8" font-weight="normal" font-style="normal" text-anchor="start" fill="#000" stroke="#000" stroke-width="0.2">(b)</text>
<g transform="translate(0 331.1) scale(1 0.99) translate(0 -331.1)">
<path d="M55.21,256.05 A94.6,94.6 0 1 0 206.59,343.45 L133.62,333.84 A21,21 0 1 1 100.02,314.44 Z" fill="#abb0df"/>
<path d="M148.77,244.26 A94.0,94.0 0 0 0 55.58,256.52 L100.02,314.44 A21,21 0 0 1 120.84,311.70 Z" fill="#ff8b8e"/>
<path d="M199.64,295.13 A94.0,94.0 0 0 0 148.77,244.26 L120.84,311.70 A21,21 0 0 1 132.20,323.06 Z" fill="#6fd4b0"/>
<path d="M206.29,318.79 A94.3,94.3 0 0 0 199.92,295.01 L132.20,323.06 A21,21 0 0 1 133.62,328.36 Z" fill="#6ccbcb"/>
<path d="M202.62,319.27 A90.6,90.6 0 0 0 196.50,296.43 L145.14,317.71 A35,35 0 0 1 147.50,326.53 Z" fill="#1caaab"/>
<path d="M199.25,319.72 A87.2,87.2 0 0 0 193.36,297.73 L158.07,312.35 A49,49 0 0 1 161.38,324.70 Z" fill="#139a9b"/>
<path d="M196.38,320.10 A84.3,84.3 0 0 0 190.68,298.84 L171.00,306.99 A63,63 0 0 1 175.26,322.88 Z" fill="#0d8d8d"/>
<path d="M196.38,320.10 A84.3,84.3 0 0 0 190.68,298.84 L183.94,301.63 A77,77 0 0 1 189.14,321.05 Z" fill="#0b8484"/>
<path d="M184.76,275.89 A90.7,90.7 0 0 0 147.51,247.30 L126.19,298.76 A35,35 0 0 1 140.57,309.79 Z" fill="#1db577"/>
<path d="M166.07,261.68 A87.5,87.5 0 0 0 146.28,250.26 L131.55,285.83 A49,49 0 0 1 142.63,292.23 Z" fill="#15a65c"/>
<path d="M164.24,264.06 A84.5,84.5 0 0 0 145.14,253.03 L136.91,272.90 A63,63 0 0 1 151.15,281.12 Z" fill="#0f9c4a"/>
<path d="M164.24,264.06 A84.5,84.5 0 0 0 145.14,253.03 L142.27,259.96 A77,77 0 0 1 159.67,270.01 Z" fill="#0b923e"/>
<path d="M190.68,298.84 A84.3,84.3 0 0 0 179.68,279.78 L173.89,284.23 A77,77 0 0 1 183.94,301.63 Z" fill="#7a74a4"/>
<path d="M124.64,241.18 A90.7,90.7 0 0 0 100.96,241.18 L108.23,296.40 A35,35 0 0 1 117.37,296.40 Z" fill="#b06aa8"/>
<path d="M124.05,245.64 A86.2,86.2 0 0 0 101.55,245.64 L106.40,282.52 A49,49 0 0 1 119.20,282.52 Z" fill="#8459a6"/>
<path d="M123.69,248.41 A83.4,83.4 0 0 0 101.91,248.41 L104.58,268.64 A63,63 0 0 1 121.02,268.64 Z" fill="#5e4ba1"/>
<path d="M123.69,248.41 A83.4,83.4 0 0 0 101.91,248.41 L102.75,254.76 A77,77 0 0 1 122.85,254.76 Z" fill="#463f9c"/>
<path d="M78.13,247.40 A90.6,90.6 0 0 0 57.65,259.22 L91.49,303.33 A35,35 0 0 1 99.41,298.76 Z" fill="#ff3e42"/>
<path d="M79.51,250.72 A87.0,87.0 0 0 0 59.84,262.08 L82.97,292.23 A49,49 0 0 1 94.05,285.83 Z" fill="#ff1e22"/>
<path d="M80.65,253.49 A84.0,84.0 0 0 0 61.66,264.46 L74.45,281.12 A63,63 0 0 1 88.69,272.90 Z" fill="#ff0d11"/>
<path d="M80.65,253.49 A84.0,84.0 0 0 0 61.66,264.46 L65.93,270.01 A77,77 0 0 1 83.33,259.96 Z" fill="#ff0508"/>
<path d="M57.83,259.46 A90.3,90.3 0 0 0 41.16,276.13 L85.03,309.79 A35,35 0 0 1 91.49,303.33 Z" fill="#7b83c6"/>
<path d="M60.14,262.47 A86.5,86.5 0 0 0 44.17,278.44 L73.93,301.27 A49,49 0 0 1 82.97,292.23 Z" fill="#5b67b6"/>
<path d="M62.03,264.93 A83.4,83.4 0 0 0 46.63,280.33 L62.82,292.75 A63,63 0 0 1 74.45,281.12 Z" fill="#4051a8"/>
<path d="M43.22,277.71 A87.7,87.7 0 0 0 31.78,297.54 L67.53,312.35 A49,49 0 0 1 73.93,301.27 Z" fill="#ec6480"/>
<path d="M45.92,279.78 A84.3,84.3 0 0 0 34.92,298.84 L54.60,306.99 A63,63 0 0 1 62.82,292.75 Z" fill="#ff2f3e"/>
<path d="M45.92,279.78 A84.3,84.3 0 0 0 34.92,298.84 L41.66,301.63 A77,77 0 0 1 51.71,284.23 Z" fill="#ff1218"/>
<path d="M29.42,342.08 A84.1,84.1 0 0 0 46.08,382.30 L62.82,369.45 A63,63 0 0 1 50.34,339.32 Z" fill="#6f78c0"/>
<path d="M35.10,363.28 A84.1,84.1 0 0 0 46.08,382.30 L51.71,377.97 A77,77 0 0 1 41.66,360.57 Z" fill="#5464b4"/>
<path d="M46.08,382.30 A84.1,84.1 0 0 0 61.60,397.82 L74.45,381.08 A63,63 0 0 1 62.82,369.45 Z" fill="#ec6480"/>
<path d="M46.08,382.30 A84.1,84.1 0 0 0 61.60,397.82 L65.93,392.19 A77,77 0 0 1 51.71,377.97 Z" fill="#ff2030"/>
<path d="M61.60,397.82 A84.1,84.1 0 0 0 101.82,414.48 L104.58,393.56 A63,63 0 0 1 74.45,381.08 Z" fill="#6f78c0"/>
<path d="M80.62,408.80 A84.1,84.1 0 0 0 101.82,414.48 L102.75,407.44 A77,77 0 0 1 83.33,402.24 Z" fill="#5464b4"/>
<path d="M101.82,414.48 A84.1,84.1 0 0 0 144.98,408.80 L136.91,389.30 A63,63 0 0 1 104.58,393.56 Z" fill="#16a3ab"/>
<path d="M101.82,414.48 A84.1,84.1 0 0 0 144.98,408.80 L142.27,402.24 A77,77 0 0 1 102.75,407.44 Z" fill="#0e8c8c"/>
<path d="M144.98,408.80 A84.1,84.1 0 0 0 196.18,342.08 L175.26,339.32 A63,63 0 0 1 136.91,389.30 Z" fill="#6f78c0"/>
<line x1="112.80" y1="331.10" x2="113.80" y2="317.14" stroke="#868686" stroke-width="0.55"/>
<path d="M126.32,327.48 A14,14 0 0 0 99.00,333.48" fill="none" stroke="#868686" stroke-width="0.55"/>
<line x1="99.00" y1="333.48" x2="85.21" y2="335.86" stroke="#868686" stroke-width="0.55"/>
<path d="M93.00,311.30 A28,28 0 0 0 111.88,359.09" fill="none" stroke="#868686" stroke-width="0.55"/>
<line x1="93.00" y1="311.30" x2="83.10" y2="301.40" stroke="#868686" stroke-width="0.55"/>
<line x1="83.10" y1="301.40" x2="73.20" y2="291.50" stroke="#868686" stroke-width="0.55"/>
<line x1="73.20" y1="291.50" x2="63.30" y2="281.60" stroke="#868686" stroke-width="0.55"/>
<line x1="63.30" y1="281.60" x2="53.40" y2="271.70" stroke="#868686" stroke-width="0.55"/>
<line x1="85.60" y1="324.44" x2="72.00" y2="321.12" stroke="#868686" stroke-width="0.55"/>
<path d="M76.43,310.10 A42,42 0 0 0 70.84,332.93" fill="none" stroke="#868686" stroke-width="0.55"/>
<line x1="76.43" y1="310.10" x2="64.30" y2="303.10" stroke="#868686" stroke-width="0.55"/>
<line x1="64.30" y1="303.10" x2="52.18" y2="296.10" stroke="#868686" stroke-width="0.55"/>
<line x1="52.18" y1="296.10" x2="40.05" y2="289.10" stroke="#868686" stroke-width="0.55"/>
<line x1="70.84" y1="332.93" x2="56.85" y2="333.54" stroke="#868686" stroke-width="0.55"/>
<path d="M58.71,316.61 A56,56 0 0 0 61.06,352.53" fill="none" stroke="#868686" stroke-width="0.55"/>
<line x1="58.71" y1="316.61" x2="45.19" y2="312.98" stroke="#868686" stroke-width="0.55"/>
<line x1="45.19" y1="312.98" x2="31.66" y2="309.36" stroke="#868686" stroke-width="0.55"/>
<line x1="56.80" y1="331.10" x2="42.80" y2="331.10" stroke="#868686" stroke-width="0.55"/>
<line x1="42.80" y1="331.10" x2="28.80" y2="331.10" stroke="#868686" stroke-width="0.55"/>
<line x1="61.06" y1="352.53" x2="48.13" y2="357.89" stroke="#868686" stroke-width="0.55"/>
<path d="M45.19,349.22 A70,70 0 0 0 52.18,366.10" fill="none" stroke="#868686" stroke-width="0.55"/>
<line x1="45.19" y1="349.22" x2="31.66" y2="352.84" stroke="#868686" stroke-width="0.55"/>
<line x1="52.18" y1="366.10" x2="40.05" y2="373.10" stroke="#868686" stroke-width="0.55"/>
<line x1="111.88" y1="359.09" x2="111.43" y2="373.08" stroke="#868686" stroke-width="0.55"/>
<line x1="111.43" y1="373.08" x2="110.97" y2="387.07" stroke="#868686" stroke-width="0.55"/>
<path d="M73.20,370.70 A56,56 0 0 0 157.23,365.19" fill="none" stroke="#868686" stroke-width="0.55"/>
<line x1="73.20" y1="370.70" x2="63.30" y2="380.60" stroke="#868686" stroke-width="0.55"/>
<line x1="63.30" y1="380.60" x2="53.40" y2="390.50" stroke="#868686" stroke-width="0.55"/>
<line x1="91.37" y1="382.84" x2="86.01" y2="395.77" stroke="#868686" stroke-width="0.55"/>
<path d="M77.80,391.72 A70,70 0 0 0 94.68,398.71" fill="none" stroke="#868686" stroke-width="0.55"/>
<line x1="77.80" y1="391.72" x2="70.80" y2="403.85" stroke="#868686" stroke-width="0.55"/>
<line x1="94.68" y1="398.71" x2="91.06" y2="412.24" stroke="#868686" stroke-width="0.55"/>
<line x1="120.11" y1="386.62" x2="121.94" y2="400.50" stroke="#868686" stroke-width="0.55"/>
<path d="M112.80,401.10 A70,70 0 0 0 130.92,398.71" fill="none" stroke="#868686" stroke-width="0.55"/>
<line x1="112.80" y1="401.10" x2="112.80" y2="415.10" stroke="#868686" stroke-width="0.55"/>
<line x1="130.92" y1="398.71" x2="134.54" y2="412.24" stroke="#868686" stroke-width="0.55"/>
<line x1="157.23" y1="365.19" x2="168.33" y2="373.71" stroke="#868686" stroke-width="0.55"/>
<path d="M147.80,391.72 A70,70 0 0 0 180.41,349.22" fill="none" stroke="#868686" stroke-width="0.55"/>
<line x1="147.80" y1="391.72" x2="154.80" y2="403.85" stroke="#868686" stroke-width="0.55"/>
<line x1="162.30" y1="380.60" x2="172.20" y2="390.50" stroke="#868686" stroke-width="0.55"/>
<line x1="173.42" y1="366.10" x2="185.55" y2="373.10" stroke="#868686" stroke-width="0.55"/>
<line x1="180.41" y1="349.22" x2="193.94" y2="352.84" stroke="#868686" stroke-width="0.55"/>
<line x1="110.97" y1="317.22" x2="109.15" y2="303.34" stroke="#868686" stroke-width="0.55"/>
<path d="M120.05,304.05 A28,28 0 0 0 98.80,306.85" fill="none" stroke="#868686" stroke-width="0.55"/>
<line x1="98.80" y1="306.85" x2="91.80" y2="294.73" stroke="#868686" stroke-width="0.55"/>
<line x1="91.80" y1="294.73" x2="84.80" y2="282.60" stroke="#868686" stroke-width="0.55"/>
<line x1="84.80" y1="282.60" x2="77.80" y2="270.48" stroke="#868686" stroke-width="0.55"/>
<line x1="77.80" y1="270.48" x2="70.80" y2="258.35" stroke="#868686" stroke-width="0.55"/>
<line x1="105.55" y1="304.05" x2="101.93" y2="290.53" stroke="#868686" stroke-width="0.55"/>
<line x1="112.80" y1="303.10" x2="112.80" y2="289.10" stroke="#868686" stroke-width="0.55"/>
<line x1="112.80" y1="289.10" x2="112.80" y2="275.10" stroke="#868686" stroke-width="0.55"/>
<line x1="112.80" y1="275.10" x2="112.80" y2="261.10" stroke="#868686" stroke-width="0.55"/>
<line x1="112.80" y1="261.10" x2="112.80" y2="247.10" stroke="#868686" stroke-width="0.55"/>
<line x1="120.05" y1="304.05" x2="123.67" y2="290.53" stroke="#868686" stroke-width="0.55"/>
<line x1="123.67" y1="290.53" x2="127.29" y2="277.01" stroke="#868686" stroke-width="0.55"/>
<line x1="123.33" y1="321.87" x2="133.85" y2="312.64" stroke="#868686" stroke-width="0.55"/>
<path d="M137.05,317.10 A28,28 0 0 0 129.85,308.89" fill="none" stroke="#868686" stroke-width="0.55"/>
<line x1="129.85" y1="308.89" x2="138.37" y2="297.78" stroke="#868686" stroke-width="0.55"/>
<path d="M142.50,301.40 A42,42 0 0 0 133.80,294.73" fill="none" stroke="#868686" stroke-width="0.55"/>
<line x1="133.80" y1="294.73" x2="140.80" y2="282.60" stroke="#868686" stroke-width="0.55"/>
<line x1="140.80" y1="282.60" x2="147.80" y2="270.48" stroke="#868686" stroke-width="0.55"/>
<line x1="147.80" y1="270.48" x2="154.80" y2="258.35" stroke="#868686" stroke-width="0.55"/>
<line x1="142.50" y1="301.40" x2="152.40" y2="291.50" stroke="#868686" stroke-width="0.55"/>
<line x1="137.05" y1="317.10" x2="149.17" y2="310.10" stroke="#868686" stroke-width="0.55"/>
<line x1="149.17" y1="310.10" x2="161.30" y2="303.10" stroke="#868686" stroke-width="0.55"/>
<line x1="161.30" y1="303.10" x2="173.42" y2="296.10" stroke="#868686" stroke-width="0.55"/>
<line x1="173.42" y1="296.10" x2="185.55" y2="289.10" stroke="#868686" stroke-width="0.55"/>
<line x1="126.32" y1="327.48" x2="139.85" y2="323.85" stroke="#868686" stroke-width="0.55"/>
<line x1="139.85" y1="323.85" x2="153.37" y2="320.23" stroke="#868686" stroke-width="0.55"/>
<line x1="153.37" y1="320.23" x2="166.89" y2="316.61" stroke="#868686" stroke-width="0.55"/>
<line x1="166.89" y1="316.61" x2="180.41" y2="312.98" stroke="#868686" stroke-width="0.55"/>
<line x1="180.41" y1="312.98" x2="193.94" y2="309.36" stroke="#868686" stroke-width="0.55"/>
<circle cx="53.40" cy="271.70" r="0.6" fill="#0a1a8c" stroke="#0a1570" stroke-width="0.45"/>
<circle cx="63.30" cy="281.60" r="1.2" fill="#0a1a8c" stroke="#0a1570" stroke-width="0.45"/>
<text transform="translate(59.48 277.78) rotate(45.0)" font-family="'Liberation Sans', sans-serif" font-size="3" text-anchor="middle" dy="1" fill="#444" fill-opacity="0.8">x</text>
<circle cx="73.20" cy="291.50" r="1.4" fill="#0a1a8c" stroke="#0a1570" stroke-width="0.45"/>
<text transform="translate(69.38 287.68) rotate(45.0)" font-family="'Liberation Sans', sans-serif" font-size="3" text-anchor="middle" dy="1" fill="#444" fill-opacity="0.8">m</text>
<circle cx="83.10" cy="301.40" r="1.7" fill="#0a1a8c" stroke="#0a1570" stroke-width="0.45"/>
<text transform="translate(79.28 297.58) rotate(45.0)" font-family="'Liberation Sans', sans-serif" font-size="3" text-anchor="middle" dy="1" fill="#444" fill-opacity="0.8">g</text>
<circle cx="40.05" cy="289.10" r="1.2" fill="#c80a14" stroke="#8a0810" stroke-width="0.45"/>
<circle cx="52.18" cy="296.10" r="1.1" fill="#c80a14" stroke="#8a0810" stroke-width="0.45"/>
<text transform="translate(47.50 293.40) rotate(30.0)" font-family="'Liberation Sans', sans-serif" font-size="3" text-anchor="middle" dy="1" fill="#444" fill-opacity="0.8">s</text>
<circle cx="64.30" cy="303.10" r="1.1" fill="#c80a14" stroke="#8a0810" stroke-width="0.45"/>
<text transform="translate(59.63 300.40) rotate(30.0)" font-family="'Liberation Sans', sans-serif" font-size="3" text-anchor="middle" dy="1" fill="#444" fill-opacity="0.8">l</text>
<circle cx="31.66" cy="309.36" r="1.4" fill="#ffffff" stroke="#8a8a8a" stroke-width="0.45"/>
<circle cx="45.19" cy="312.98" r="1.6" fill="#ffffff" stroke="#8a8a8a" stroke-width="0.45"/>
<circle cx="28.80" cy="331.10" r="1.5" fill="#ffffff" stroke="#8a8a8a" stroke-width="0.45"/>
<circle cx="42.80" cy="331.10" r="1.6" fill="#ffffff" stroke="#8a8a8a" stroke-width="0.45"/>
<circle cx="31.66" cy="352.84" r="1.1" fill="#ffffff" stroke="#8a8a8a" stroke-width="0.45"/>
<circle cx="40.05" cy="373.10" r="1.3" fill="#0a1a8c" stroke="#0a1570" stroke-width="0.45"/>
<circle cx="48.13" cy="357.89" r="1.8" fill="#0a1a8c" stroke="#0a1570" stroke-width="0.45"/>
<text transform="translate(43.14 359.95) rotate(-22.5)" font-family="'Liberation Sans', sans-serif" font-size="3" text-anchor="middle" dy="1" fill="#444" fill-opacity="0.8">r</text>
<circle cx="56.85" cy="333.54" r="2.1" fill="#ffffff" stroke="#8a8a8a" stroke-width="0.45"/>
<circle cx="72.00" cy="321.12" r="2.1" fill="#ffffff" stroke="#8a8a8a" stroke-width="0.45"/>
<circle cx="53.40" cy="390.50" r="1.7" fill="#ff0a0a" stroke="#a01010" stroke-width="0.45"/>
<circle cx="63.30" cy="380.60" r="1.8" fill="#ff0a0a" stroke="#a01010" stroke-width="0.45"/>
<text transform="translate(59.48 384.42) rotate(-45.0)" font-family="'Liberation Sans', sans-serif" font-size="3" text-anchor="middle" dy="1" fill="#444" fill-opacity="0.8">t</text>
<circle cx="70.80" cy="403.85" r="1.1" fill="#ffffff" stroke="#8a8a8a" stroke-width="0.45"/>
<circle cx="91.06" cy="412.24" r="1.2" fill="#0a1a8c" stroke="#0a1570" stroke-width="0.45"/>
<circle cx="86.01" cy="395.77" r="1.8" fill="#0a1a8c" stroke="#0a1570" stroke-width="0.45"/>
<text transform="translate(83.95 400.76) rotate(-67.5)" font-family="'Liberation Sans', sans-serif" font-size="3" text-anchor="middle" dy="1" fill="#444" fill-opacity="0.8">v</text>
<circle cx="112.80" cy="415.10" r="1.2" fill="#117a74" stroke="#0a4a46" stroke-width="0.45"/>
<circle cx="134.54" cy="412.24" r="1.3" fill="#117a74" stroke="#0a4a46" stroke-width="0.45"/>
<circle cx="121.94" cy="400.50" r="1.7" fill="#117a74" stroke="#0a4a46" stroke-width="0.45"/>
<text transform="translate(122.64 405.85) rotate(-277.5)" font-family="'Liberation Sans', sans-serif" font-size="3" text-anchor="middle" dy="1" fill="#444" fill-opacity="0.8">w</text>
<circle cx="154.80" cy="403.85" r="1.2" fill="#ffffff" stroke="#8a8a8a" stroke-width="0.45"/>
<circle cx="172.20" cy="390.50" r="0.3" fill="#888" stroke="#888" stroke-width="0.45"/>
<circle cx="185.55" cy="373.10" r="1.2" fill="#ffffff" stroke="#8a8a8a" stroke-width="0.45"/>
<circle cx="193.94" cy="352.84" r="1.3" fill="#ffffff" stroke="#8a8a8a" stroke-width="0.45"/>
<circle cx="168.33" cy="373.71" r="1.9" fill="#0a1a8c" stroke="#0a1570" stroke-width="0.45"/>
<text transform="translate(172.62 377.00) rotate(-322.5)" font-family="'Liberation Sans', sans-serif" font-size="3" text-anchor="middle" dy="1" fill="#444" fill-opacity="0.8">u</text>
<circle cx="110.97" cy="387.07" r="2.5" fill="#ffffff" stroke="#8a8a8a" stroke-width="0.45"/>
<circle cx="111.43" cy="373.08" r="2.3" fill="#ffffff" stroke="#8a8a8a" stroke-width="0.45"/>
<circle cx="85.21" cy="335.86" r="2.5" fill="#0a1a8c" stroke="#0a1570" stroke-width="0.45"/>
<text transform="translate(79.89 336.78) rotate(-9.8)" font-family="'Liberation Sans', sans-serif" font-size="3" text-anchor="middle" dy="1" fill="#444" fill-opacity="0.8">c</text>
<circle cx="70.80" cy="258.35" r="1.6" fill="#ff0a0a" stroke="#a01010" stroke-width="0.45"/>
<circle cx="77.80" cy="270.48" r="1.6" fill="#ff0a0a" stroke="#a01010" stroke-width="0.45"/>
<text transform="translate(75.10 265.80) rotate(60.0)" font-family="'Liberation Sans', sans-serif" font-size="3" text-anchor="middle" dy="1" fill="#444" fill-opacity="0.8">z</text>
<circle cx="84.80" cy="282.60" r="1.6" fill="#ff0a0a" stroke="#a01010" stroke-width="0.45"/>
<text transform="translate(82.10 277.93) rotate(60.0)" font-family="'Liberation Sans', sans-serif" font-size="3" text-anchor="middle" dy="1" fill="#444" fill-opacity="0.8">o</text>
<circle cx="91.80" cy="294.73" r="1.9" fill="#ff0a0a" stroke="#a01010" stroke-width="0.45"/>
<text transform="translate(89.10 290.05) rotate(60.0)" font-family="'Liberation Sans', sans-serif" font-size="3" text-anchor="middle" dy="1" fill="#444" fill-opacity="0.8">i</text>
<circle cx="101.93" cy="290.53" r="1.7" fill="#ffffff" stroke="#8a8a8a" stroke-width="0.45"/>
<circle cx="112.80" cy="247.10" r="0.8" fill="#0a1a8c" stroke="#0a1570" stroke-width="0.45"/>
<circle cx="112.80" cy="261.10" r="1.4" fill="#0a1a8c" stroke="#0a1570" stroke-width="0.45"/>
<text transform="translate(112.80 255.70) rotate(-90.0)" font-family="'Liberation Sans', sans-serif" font-size="3" text-anchor="middle" dy="1" fill="#444" fill-opacity="0.8">y</text>
<circle cx="112.80" cy="275.10" r="1.6" fill="#0a1a8c" stroke="#0a1570" stroke-width="0.45"/>
<text transform="translate(112.80 269.70) rotate(-90.0)" font-family="'Liberation Sans', sans-serif" font-size="3" text-anchor="middle" dy="1" fill="#444" fill-opacity="0.8">n</text>
<circle cx="112.80" cy="289.10" r="1.7" fill="#0a1a8c" stroke="#0a1570" stroke-width="0.45"/>
<text transform="translate(112.80 283.70) rotate(-90.0)" font-family="'Liberation Sans', sans-serif" font-size="3" text-anchor="middle" dy="1" fill="#444" fill-opacity="0.8">h</text>
<circle cx="127.29" cy="277.01" r="1.6" fill="#ffffff" stroke="#8a8a8a" stroke-width="0.45"/>
<circle cx="123.67" cy="290.53" r="1.8" fill="#ffffff" stroke="#8a8a8a" stroke-width="0.45"/>
<circle cx="109.15" cy="303.34" r="2.4" fill="#ff0a0a" stroke="#a01010" stroke-width="0.45"/>
<text transform="translate(108.44 297.99) rotate(82.5)" font-family="'Liberation Sans', sans-serif" font-size="3" text-anchor="middle" dy="1" fill="#444" fill-opacity="0.8">d</text>
<circle cx="154.80" cy="258.35" r="1.9" fill="#0a7a14" stroke="#075a0e" stroke-width="0.45"/>
<circle cx="147.80" cy="270.48" r="1.9" fill="#0a7a14" stroke="#075a0e" stroke-width="0.45"/>
<text transform="translate(150.50 265.80) rotate(-60.0)" font-family="'Liberation Sans', sans-serif" font-size="3" text-anchor="middle" dy="1" fill="#444" fill-opacity="0.8">p</text>
<circle cx="140.80" cy="282.60" r="1.9" fill="#0a7a14" stroke="#075a0e" stroke-width="0.45"/>
<text transform="translate(143.50 277.93) rotate(-60.0)" font-family="'Liberation Sans', sans-serif" font-size="3" text-anchor="middle" dy="1" fill="#444" fill-opacity="0.8">j</text>
<circle cx="152.40" cy="291.50" r="1.5" fill="#ffffff" stroke="#8a8a8a" stroke-width="0.45"/>
<circle cx="138.37" cy="297.78" r="2.0" fill="#0a7a14" stroke="#075a0e" stroke-width="0.45"/>
<text transform="translate(141.66 293.50) rotate(-52.5)" font-family="'Liberation Sans', sans-serif" font-size="3" text-anchor="middle" dy="1" fill="#444" fill-opacity="0.8">e</text>
<circle cx="185.55" cy="289.10" r="0.3" fill="#888" stroke="#888" stroke-width="0.45"/>
<circle cx="173.42" cy="296.10" r="1.7" fill="#ffffff" stroke="#8a8a8a" stroke-width="0.45"/>
<circle cx="161.30" cy="303.10" r="1.8" fill="#ffffff" stroke="#8a8a8a" stroke-width="0.45"/>
<circle cx="149.17" cy="310.10" r="1.8" fill="#ffffff" stroke="#8a8a8a" stroke-width="0.45"/>
<circle cx="133.85" cy="312.64" r="2.2" fill="#0a7a14" stroke="#075a0e" stroke-width="0.45"/>
<text transform="translate(137.91 309.08) rotate(-41.2)" font-family="'Liberation Sans', sans-serif" font-size="3" text-anchor="middle" dy="1" fill="#444" fill-opacity="0.8">a</text>
<circle cx="193.94" cy="309.36" r="1.5" fill="#117a74" stroke="#0a4a46" stroke-width="0.45"/>
<circle cx="180.41" cy="312.98" r="1.5" fill="#117a74" stroke="#0a4a46" stroke-width="0.45"/>
<text transform="translate(185.63 311.59) rotate(-15.0)" font-family="'Liberation Sans', sans-serif" font-size="3" text-anchor="middle" dy="1" fill="#444" fill-opacity="0.8">q</text>
<circle cx="166.89" cy="316.61" r="1.7" fill="#117a74" stroke="#0a4a46" stroke-width="0.45"/>
<text transform="translate(172.11 315.21) rotate(-15.0)" font-family="'Liberation Sans', sans-serif" font-size="3" text-anchor="middle" dy="1" fill="#444" fill-opacity="0.8">k</text>
<circle cx="153.37" cy="320.23" r="1.9" fill="#117a74" stroke="#0a4a46" stroke-width="0.45"/>
<text transform="translate(158.58 318.83) rotate(-15.0)" font-family="'Liberation Sans', sans-serif" font-size="3" text-anchor="middle" dy="1" fill="#444" fill-opacity="0.8">f</text>
<circle cx="139.85" cy="323.85" r="2.1" fill="#117a74" stroke="#0a4a46" stroke-width="0.45"/>
<text transform="translate(145.06 322.46) rotate(-15.0)" font-family="'Liberation Sans', sans-serif" font-size="3" text-anchor="middle" dy="1" fill="#444" fill-opacity="0.8">b</text>
<circle cx="113.80" cy="317.14" r="2.6" fill="#ffffff" stroke="#8a8a8a" stroke-width="0.45"/>
<circle cx="112.80" cy="331.10" r="2.6" fill="#ffffff" stroke="#8a8a8a" stroke-width="0.45"/>
<text transform="translate(157.70 253.33) rotate(30.0)" font-family="'Liberation Sans', sans-serif" font-size="3.6" text-anchor="middle" dy="1.2" fill="#333" fill-opacity="0.75">a1</text>
<text transform="translate(190.57 286.20) rotate(60.0)" font-family="'Liberation Sans', sans-serif" font-size="3.6" text-anchor="middle" dy="1.2" fill="#333" fill-opacity="0.75">b1</text>
<text transform="translate(199.54 307.86) rotate(75.0)" font-family="'Liberation Sans', sans-serif" font-size="3.6" text-anchor="middle" dy="1.2" fill="#333" fill-opacity="0.75">c1</text>
<text transform="translate(35.03 376.00) rotate(60.0)" font-family="'Liberation Sans', sans-serif" font-size="3.6" text-anchor="middle" dy="1.2" fill="#333" fill-opacity="0.75">d1</text>
<text transform="translate(35.03 286.20) rotate(-60.0)" font-family="'Liberation Sans', sans-serif" font-size="3.6" text-anchor="middle" dy="1.2" fill="#333" fill-opacity="0.75">e1</text>
<text transform="translate(49.30 394.60) rotate(45.0)" font-family="'Liberation Sans', sans-serif" font-size="3.6" text-anchor="middle" dy="1.2" fill="#333" fill-opacity="0.75">f1</text>
<text transform="translate(89.56 417.84) rotate(15.0)" font-family="'Liberation Sans', sans-serif" font-size="3.6" text-anchor="middle" dy="1.2" fill="#333" fill-opacity="0.75">g1</text>
<text transform="translate(112.80 420.90) rotate(0.0)" font-family="'Liberation Sans', sans-serif" font-size="3.6" text-anchor="middle" dy="1.2" fill="#333" fill-opacity="0.75">h1</text>
<text transform="translate(136.04 417.84) rotate(-15.0)" font-family="'Liberation Sans', sans-serif" font-size="3.6" text-anchor="middle" dy="1.2" fill="#333" fill-opacity="0.75">i1</text>
<text transform="translate(112.80 241.30) rotate(0.0)" font-family="'Liberation Sans', sans-serif" font-size="3.6" text-anchor="middle" dy="1.2" fill="#333" fill-opacity="0.75">j1</text>
<text transform="translate(67.90 253.33) rotate(-30.0)" font-family="'Liberation Sans', sans-serif" font-size="3.6" text-anchor="middle" dy="1.2" fill="#333" fill-opacity="0.75">k1</text>
</g>
</g>
</svg>
</body>
</html>
